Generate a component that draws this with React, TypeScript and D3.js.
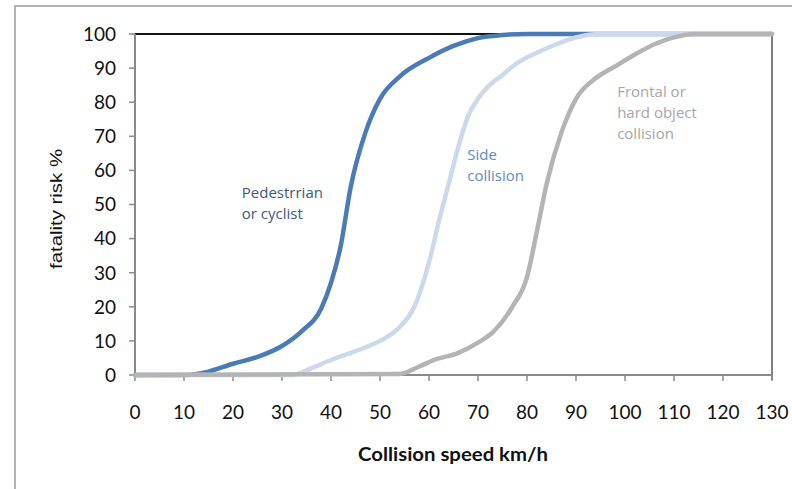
import React from "react";
import * as d3 from "d3";

// collision speed (km/h) and fatality risk (%)
const pedSpeed = [0, 10, 15, 20, 25, 30, 34, 38, 40, 42, 44, 47, 50, 54, 60, 65, 70, 75, 80, 130];
const pedRisk = [0, 0, 1, 3.3, 5.3, 8.5, 12.8, 19.5, 27, 38, 55, 71, 81, 87.5, 93, 96.5, 98.8, 99.7, 100, 100];

const sideSpeed = [0, 32, 36, 40, 45, 50, 54, 57, 60, 62, 64, 66, 68, 70, 72, 75, 78, 82, 86, 90, 95, 130];
const sideRisk = [0, 0, 2, 4.4, 7, 10, 14, 20, 33, 45, 56, 67, 76, 81, 84.5, 88, 91.5, 94.5, 97, 99, 100, 100];

const frontSpeed = [0, 54, 58, 61, 66, 70, 73, 77, 80, 82, 84, 87, 90, 94, 98, 102, 106, 110, 114, 130];
const frontRisk = [0, 0.3, 2.5, 4.4, 6.5, 9.5, 12.5, 20, 28.7, 42, 56, 71, 81, 87, 90.5, 94, 97, 99, 100, 100];

const xTicks = d3.range(0, 131, 10);
const yTicks = d3.range(0, 101, 10);

const series = [
  { name: "pedestrian", xs: pedSpeed, ys: pedRisk, color: "#4b7bb7" },
  { name: "side", xs: sideSpeed, ys: sideRisk, color: "#cbd9eb" },
  { name: "frontal", xs: frontSpeed, ys: frontRisk, color: "#b4b4b4" },
];

// label anchors in data units (speed, risk)
const labels = [
  { lines: ["Pedestrrian", "or cyclist"], x: 21.8, y: 52, color: "#3c5a78" },
  { lines: ["Side", "collision"], x: 67.8, y: 63, color: "#5d8cc0" },
  { lines: ["Frontal or", "hard object", "collision"], x: 98.4, y: 81.5, color: "#a6a6a6" },
];

export default function App() {
  const width = 792;
  const height = 489;
  const margin = { top: 34, right: 20, bottom: 114, left: 135 };

  const x = d3.scaleLinear().domain([0, 130]).range([margin.left, width - margin.right]);
  const y = d3.scaleLinear().domain([0, 100]).range([height - margin.bottom, margin.top]);

  const line = d3.line<[number, number]>()
    .x(d => x(d[0]))
    .y(d => y(d[1]))
    .curve(d3.curveMonotoneX);

  const tickFont = "Lato, 'Open Sans', sans-serif";

  return (
    <svg width={width} height={height} style={{ position: "absolute", left: 0, top: 0 }}>
      <rect x={0} y={0} width={width} height={height} fill="#fff" />
      {/* outer frame */}
      <rect x={15} y={6} width={800} height={500} fill="none" stroke="#9a9a9a" strokeWidth={1.5} />

      {/* plot frame */}
      <line x1={x(0)} x2={x(130)} y1={y(100)} y2={y(100)} stroke="#111" strokeWidth={2} />
      <line x1={x(130)} x2={x(130)} y1={y(100)} y2={y(0) + 5} stroke="#555" strokeWidth={1.5} />
      <line x1={x(0)} x2={x(0)} y1={y(100)} y2={y(0)} stroke="#8a8a8a" strokeWidth={2} />
      <line x1={x(0)} x2={x(130)} y1={y(0)} y2={y(0)} stroke="#8a8a8a" strokeWidth={2} />

      {yTicks.map(t => (
        <g key={"y" + t}>
          <line x1={x(0) - 6} x2={x(0)} y1={y(t)} y2={y(t)} stroke="#8a8a8a" strokeWidth={1.5} />
          <text x={116} y={y(t)} dy="0.36em" textAnchor="end" fontSize={19} fontFamily={tickFont} fill="#111">{t}</text>
        </g>
      ))}
      {xTicks.map(t => (
        <g key={"x" + t}>
          <line x1={x(t)} x2={x(t)} y1={y(0)} y2={y(0) + 6} stroke="#8a8a8a" strokeWidth={1.5} />
          <text x={x(t)} y={412} dy="0.36em" textAnchor="middle" fontSize={19} fontFamily={tickFont} fill="#111">{t}</text>
        </g>
      ))}

      {series.map(s => (
        <path
          key={s.name}
          d={line(s.xs.map((v, i) => [v, s.ys[i]] as [number, number])) || ""}
          fill="none"
          stroke={s.color}
          strokeWidth={4.5}
          strokeLinecap="round"
        />
      ))}

      {labels.map(l => (
        <text key={l.lines[0]} x={x(l.x)} y={y(l.y)} fontSize={15} fontFamily="'Open Sans', sans-serif" fill={l.color}>
          {l.lines.map((t, i) => (
            <tspan key={i} x={x(l.x)} dy={i === 0 ? 0 : 21}>{t}</tspan>
          ))}
        </text>
      ))}

      <text x={453} y={455} dy="0.35em" textAnchor="middle" fontSize={18} fontWeight="bold" fontFamily={tickFont} fill="#111" textLength={190} lengthAdjust="spacingAndGlyphs">
        Collision speed km/h
      </text>
      <text transform="translate(56,209) rotate(-90)" dy="0.35em" textAnchor="middle" fontSize={17} fontFamily="'Liberation Sans', Arial, sans-serif" fill="#111" textLength={120} lengthAdjust="spacingAndGlyphs">
        fatality risk %
      </text>
    </svg>
  );
}
